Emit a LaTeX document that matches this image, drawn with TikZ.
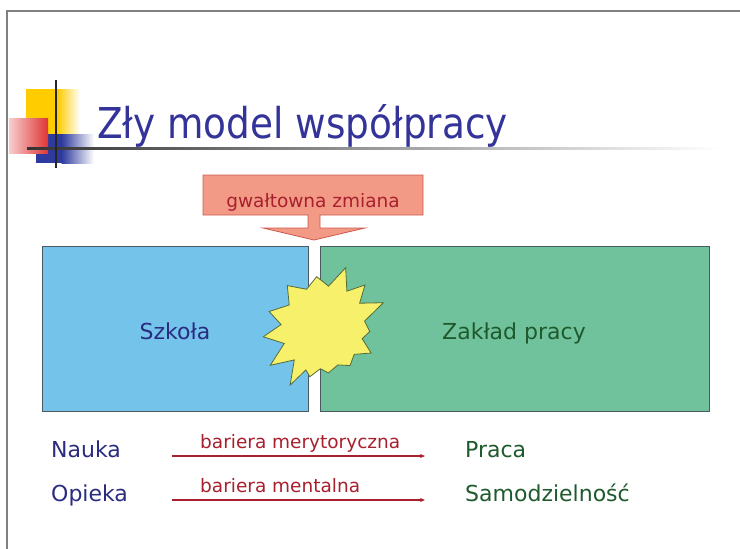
\documentclass[tikz,border=0pt]{standalone}
\usepackage{fontspec}
\setmainfont{DejaVu Sans}
\newfontfamily\titlefont{DejaVu Sans}[FakeStretch=0.88]
\usetikzlibrary{arrows.meta}
\definecolor{titleblue}{HTML}{333399}
\definecolor{navy}{HTML}{2B2B7F}
\definecolor{dgreen}{HTML}{1F5A2D}
\definecolor{dred}{HTML}{A8202E}
\definecolor{salmon}{HTML}{F29A86}
\definecolor{salmonb}{HTML}{CF5A50}
\definecolor{boxblue}{HTML}{74C3EB}
\definecolor{boxgreen}{HTML}{6FC29B}
\definecolor{boxline}{HTML}{4A5A60}
\definecolor{staryel}{HTML}{F7F06A}
\definecolor{starline}{HTML}{556B3A}
\definecolor{logoyel}{HTML}{FFCC00}
\definecolor{logoblue}{HTML}{2E3A9E}
\definecolor{logored}{HTML}{E03535}
\definecolor{frame}{HTML}{808080}
\tikzset{
  bigbox/.style={draw=boxline, line width=0.9pt},
  lbl/.style={inner sep=0pt, anchor=base west},
  bodytxt/.style={inner sep=0pt, font=\fontsize{22}{26}\selectfont},
  redtxt/.style={inner sep=0pt, text=dred, font=\fontsize{18.5}{22}\selectfont},
  barrow/.style={draw=dred, line width=1.3pt, -{Stealth[length=5pt,width=4pt]}},
}
\begin{document}
\begin{tikzpicture}[x=1pt,y=-1pt]
\useasboundingbox (0,0) rectangle (740,549);
\fill[white] (0,0) rectangle (740,549);
% frame
\draw[frame, line width=1.2pt] (7,549) -- (7,11) -- (740,11);
% logo
\fill[logoyel] (26,89) rectangle (58,134);
\shade[left color=logoyel, right color=white] (57.5,89) rectangle (80,134);
\fill[logoblue] (36,134) rectangle (62,163);
\shade[left color=logoblue, right color=white] (61.5,134) rectangle (94,163);
\shade[left color=logored!25, right color=logored] (9,118) rectangle (48,153);
\shade[left color=black!80, middle color=gray!70, right color=white] (27,147.3) rectangle (720,149.2);
\draw[black!85, line width=1.5pt] (56,80) -- (56,168);
% title
\node[lbl, text=titleblue] (title) at (97,138) {\titlefont\fontsize{42.5}{50}\selectfont Zły model współpracy};
% callout
\draw[fill=salmon, draw=salmonb, line width=0.8pt]
  (203,175) -- (423,175) -- (423,215) -- (320,215) -- (320,228) -- (365,228)
  -- (314,240) -- (263,228) -- (308,228) -- (308,215) -- (203,215) -- cycle;
\node[redtxt, anchor=base] (zmiana) at (313,207) {gwałtowna zmiana};
% boxes
\path[bigbox, fill=boxblue] (42,246) rectangle (308,411);
\path[bigbox, fill=boxgreen] (320,246) rectangle (709,411);
\node[bodytxt, text=navy, anchor=base] (szkola) at (175,339) {Szkoła};
\node[bodytxt, text=dgreen, anchor=base] (zaklad) at (514,339) {Zakład pracy};
% star
\coordinate (star) at (325,327);
\begin{scope}[shift={(star)}]
\draw[fill=staryel, draw=starline, line width=0.8pt, line join=miter]
  (99.4:51pt) -- (85:41pt) -- (70.8:62.8pt) -- (58.6:42pt) -- (46.4:58pt)
  -- (34.5:42pt) -- (22.6:63.2pt) -- (8.5:40pt) -- (-5.7:45pt) -- (-17.5:39pt)
  -- (-29.4:53pt) -- (-43.2:40pt) -- (-57:46pt) -- (-71.3:40pt) -- (-85.6:46pt)
  -- (-96.3:42pt) -- (-107:52pt) -- (-114:47pt) -- (-121:67.7pt) -- (-133:45pt)
  -- (-145:66.8pt) -- (-158:44pt) -- (-171:62.5pt) -- (-183.2:44pt) -- (-195.5:58pt)
  -- (-211.6:42pt) -- (-227.7:56pt) -- (-244:42pt) -- cycle;
\end{scope}
% bottom rows
\node[bodytxt, lbl, text=navy] (nauka) at (51,457) {Nauka};
\node[bodytxt, lbl, text=navy] (opieka) at (51,501) {Opieka};
\node[bodytxt, lbl, text=dgreen] (praca) at (465,457) {Praca};
\node[bodytxt, lbl, text=dgreen] (samo) at (465,501) {Samodzielność};
\node[redtxt, lbl] (bar1) at (200,448) {bariera merytoryczna};
\node[redtxt, lbl] (bar2) at (200,492) {bariera mentalna};
\coordinate (a1s) at (172,456);
\coordinate (a1e) at (425,456);
\coordinate (a2s) at (172,500);
\coordinate (a2e) at (425,500);
\draw[barrow] (a1s) -- (a1e);
\draw[barrow] (a2s) -- (a2e);
\end{tikzpicture}
\end{document}
